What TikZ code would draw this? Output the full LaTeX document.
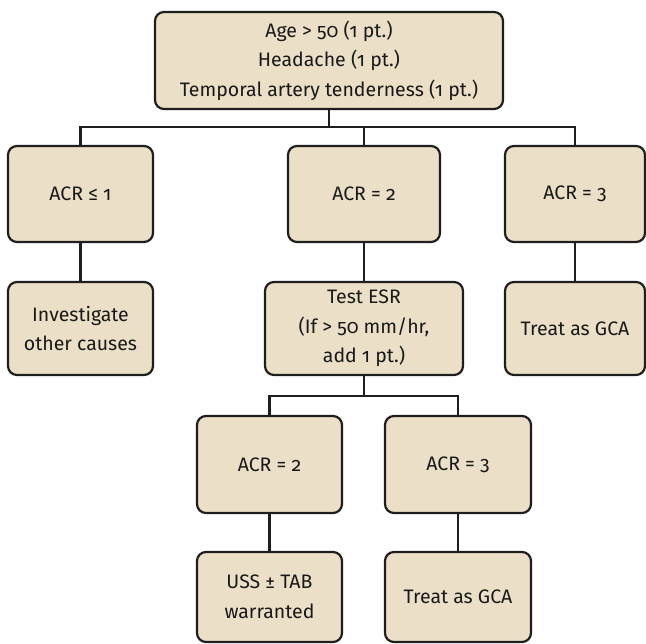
\documentclass[tikz,border=0pt]{standalone}
\usepackage{fontspec}
\setmainfont{Fira Sans}[Numbers=OldStyle]
\definecolor{boxfill}{RGB}{235,224,199}
\definecolor{edge}{RGB}{30,30,30}
\tikzset{
  fbox/.style={draw=edge, fill=boxfill, line width=2.2pt, rounded corners=9pt,
    align=center, inner sep=0pt, text=black!90, font=\fontsize{19.5}{29.5}\selectfont},
  conn/.style={draw=edge, line width=2.2pt},
}
\begin{document}
\begin{tikzpicture}[x=1pt,y=-1pt]
\useasboundingbox (0,0) rectangle (646,644);
% top
\node[fbox, minimum width=348pt, minimum height=97pt] (top) at (329,60.5)
  {Age > 50 (1 pt.)\\Headache (1 pt.)\\Temporal artery tenderness (1 pt.)};
% row 2
\node[fbox, minimum width=145pt, minimum height=96pt] (a1) at (80.5,194) {ACR ≤ 1};
\node[fbox, minimum width=152pt, minimum height=96pt] (a2) at (364,194) {ACR = 2};
\node[fbox, minimum width=140pt, minimum height=96pt] (a3) at (575,194) {ACR = 3};
% row 3
\node[fbox, minimum width=145pt, minimum height=93pt] (b1) at (80.5,328.5) {Investigate\\other causes};
\node[fbox, minimum width=198pt, minimum height=93pt] (b2) at (364,328.5) {Test ESR\\(If > 50 mm/hr,\\add 1 pt.)};
\node[fbox, minimum width=140pt, minimum height=93pt] (b3) at (575,328.5) {Treat as GCA};
% row 4
\node[fbox, minimum width=145pt, minimum height=97pt] (c1) at (269.5,464.5) {ACR = 2};
\node[fbox, minimum width=146pt, minimum height=97pt] (c2) at (458,464.5) {ACR = 3};
% row 5
\node[fbox, minimum width=145pt, minimum height=90pt] (d1) at (269.5,597) {USS ± TAB\\warranted};
\node[fbox, minimum width=146pt, minimum height=90pt] (d2) at (458,597) {Treat as GCA};
% connectors
\coordinate (bar1) at (329,127);
\coordinate (bar2) at (364,396);
\draw[conn] (top.south) -- (bar1);
\draw[conn] (a1.north) -- (a1.north |- bar1) -- (a3.north |- bar1) -- (a3.north);
\draw[conn] (a2.north) -- (a2.north |- bar1);
\draw[conn] (a1.south) -- (b1.north);
\draw[conn] (a2.south) -- (b2.north);
\draw[conn] (a3.south) -- (b3.north);
\draw[conn] (b2.south) -- (bar2);
\draw[conn] (c1.north) -- (c1.north |- bar2) -- (c2.north |- bar2) -- (c2.north);
\draw[conn] (c1.south) -- (d1.north);
\draw[conn] (c2.south) -- (d2.north);
\end{tikzpicture}
\end{document}
